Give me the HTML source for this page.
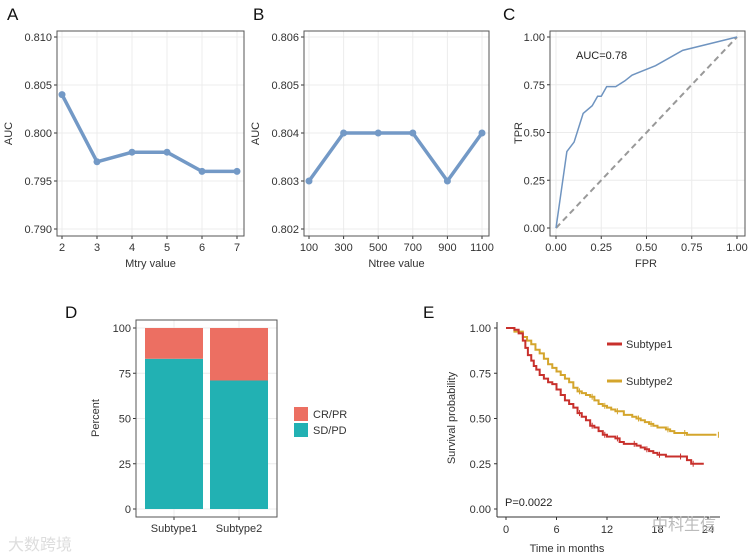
<!DOCTYPE html>
<html><head><meta charset="utf-8"><style>
body{margin:0;background:#fff;}
svg{display:block;font-family:"Liberation Sans",sans-serif;}
</style></head><body>
<svg id="fig" width="748" height="557" viewBox="0 0 748 557"></svg>
<script>
const mtryCats=[2,3,4,5,6,7];
const mtryAUC=[0.804,0.797,0.798,0.798,0.796,0.796];
const mtryTicks=[0.790,0.795,0.800,0.805,0.810];
const ntreeCats=[100,300,500,700,900,1100];
const ntreeAUC=[0.803,0.804,0.804,0.804,0.803,0.804];
const ntreeTicks=[0.802,0.803,0.804,0.805,0.806];
const rocFPR=[0,0.03,0.06,0.10,0.15,0.20,0.23,0.25,0.28,0.33,0.38,0.42,0.55,0.70,1.0];
const rocTPR=[0,0.20,0.40,0.45,0.60,0.64,0.69,0.69,0.74,0.74,0.77,0.80,0.85,0.93,1.0];
const rocTicks=[0,0.25,0.5,0.75,1.0];
const barCats=["Subtype1","Subtype2"];
const sdPD=[83,71];
const crPR=[17,29];
const pctTicks=[0,25,50,75,100];
const s1Time=[0,1,1.5,2,2.3,2.6,3,3.3,3.6,4,4.5,5,5.5,6,6.5,7,7.5,8,8.5,9,9.5,10,10.5,11,11.5,12,12.5,13,13.5,14,15,15.5,16,16.5,17,17.5,18,19,20,20.5,21,21.5,22,23.5];
const s1Surv=[1.0,0.99,0.97,0.93,0.89,0.85,0.82,0.79,0.77,0.74,0.72,0.70,0.69,0.66,0.63,0.60,0.58,0.56,0.53,0.51,0.49,0.46,0.45,0.43,0.41,0.40,0.40,0.39,0.37,0.36,0.36,0.35,0.34,0.33,0.32,0.31,0.30,0.29,0.29,0.29,0.29,0.27,0.25,0.25];
const s2Time=[0,1,2,2.5,3,3.5,4,4.5,5,5.5,6,6.5,7,7.5,8,8.5,9,9.5,10,10.5,11,11.5,12,12.5,13,14,15,15.5,16,16.5,17,17.5,18,19,19.5,20,21,21.5,22,25];
const s2Surv=[1.0,0.98,0.95,0.93,0.91,0.88,0.86,0.83,0.80,0.78,0.76,0.74,0.72,0.70,0.67,0.65,0.64,0.63,0.62,0.60,0.58,0.57,0.56,0.55,0.54,0.52,0.51,0.50,0.49,0.48,0.47,0.46,0.45,0.44,0.43,0.42,0.42,0.41,0.41,0.41];
const survTicks=[0,0.25,0.5,0.75,1.0];
const timeTicks=[0,6,12,18,24];

const svg=document.getElementById('fig');
const NS="http://www.w3.org/2000/svg";
function el(tag,attrs,parent,text){const e=document.createElementNS(NS,tag);for(const k in attrs)e.setAttribute(k,attrs[k]);if(text!==undefined)e.textContent=text;(parent||svg).appendChild(e);return e;}
function lin(d0,d1,r0,r1){return v=>r0+(v-d0)/(d1-d0)*(r1-r0);}
function label(t,x,y,name){const e=el('text',{x:x,y:y,'font-size':17,fill:'#111'},svg,t);}

function yAxis(ticks,ys,x0,x1,fmt,g){ticks.forEach(t=>{const y=ys(t);
 el('line',{x1:x0,x2:x1,y1:y,y2:y,stroke:'#ececec','stroke-width':1},g);
 el('line',{x1:x0-3,x2:x0,y1:y,y2:y,stroke:'#333'},g);
 const tx=el('text',{x:x0-5,y:y+4,'font-size':11,'text-anchor':'end',fill:'#333'},g,fmt(t));
 });}
function xAxis(ticks,xs,y0,y1,fmt,g,grid=true){ticks.forEach(t=>{const x=xs(t);
 if(grid)el('line',{x1:x,x2:x,y1:y1,y2:y0,stroke:'#ececec'},g);
 el('line',{x1:x,x2:x,y1:y0,y2:y0+3,stroke:'#333'},g);
 const tx=el('text',{x:x,y:y0+15,'font-size':11,'text-anchor':'middle',fill:'#333'},g,fmt(t));
 });}
function title(t,x,y,rot,g,name){const e=el('text',{x:x,y:y,'font-size':11,'text-anchor':'middle',fill:'#333',transform:rot?`rotate(-90 ${x} ${y})`:''},g,t);}

function linePanel(name,cats,vals,ticks,box,xlab,fmt){
 const g=el('g',{});
 const xs=lin(0,cats.length-1,box.x0+5,box.x1-7);const ys=lin(ticks[0],ticks[ticks.length-1],box.y1-7,box.y0+6);
 yAxis(ticks,ys,box.x0,box.x1,fmt,g);
 xAxis(cats.map((c,i)=>i),xs,box.y1,box.y0,i=>String(cats[i]),g);
 el('rect',{x:box.x0,y:box.y0,width:box.x1-box.x0,height:box.y1-box.y0,fill:'none',stroke:'#555','stroke-width':1},g);
 const pts=vals.map((v,i)=>xs(i)+','+ys(v)).join(' ');
 const pl=el('polyline',{points:pts,fill:'none',stroke:'#7399c6','stroke-width':3.5,'stroke-linejoin':'round'},g);
 
 vals.forEach((v,i)=>{const c=el('circle',{cx:xs(i),cy:ys(v),r:3.5,fill:'#7399c6'},g);});
 title(xlab,(box.x0+box.x1)/2,box.y1+31,false,g,'x-axis-title');
 title('AUC',box.x0-45,(box.y0+box.y1)/2,true,g,'y-axis-title');
}
label('A',7,20,'panel-label-a');label('B',253,20,'panel-label-b');label('C',503,20,'panel-label-c');
linePanel('mtry-chart',mtryCats,mtryAUC,mtryTicks,{x0:57,x1:244,y0:31,y1:236},'Mtry value',t=>t.toFixed(3));
linePanel('ntree-chart',ntreeCats,ntreeAUC,ntreeTicks,{x0:304,x1:489,y0:31,y1:236},'Ntree value',t=>t.toFixed(3));

// ROC
(function(){const g=el('g',{});
 const b={x0:550,x1:745,y0:31,y1:236};const xs=lin(0,1,556,737),ys=lin(0,1,228,37);
 yAxis(rocTicks,ys,b.x0,b.x1,t=>t.toFixed(2),g);xAxis(rocTicks,xs,b.y1,b.y0,t=>t.toFixed(2),g);
 el('rect',{x:b.x0,y:b.y0,width:b.x1-b.x0,height:b.y1-b.y0,fill:'none',stroke:'#555'},g);
 const d=el('line',{x1:xs(0),y1:ys(0),x2:xs(1),y2:ys(1),stroke:'#999','stroke-width':2,'stroke-dasharray':'6,4'},g);
 const p=el('polyline',{points:rocFPR.map((f,i)=>xs(f)+','+ys(rocTPR[i])).join(' '),fill:'none',stroke:'#6f94c0','stroke-width':1.5},g);
 const a=el('text',{x:576,y:59,'font-size':11,fill:'#222'},g,'AUC=0.78');
 title('FPR',646,267,false,g,'x-axis-title');title('TPR',522,133,true,g,'y-axis-title');})();

// D bar
label('D',65,318,'panel-label-d');
(function(){const g=el('g',{});
 const b={x0:136,x1:277,y0:320,y1:517};const ys=lin(0,100,509,328);const cx=[174,239];
 yAxis(pctTicks,ys,b.x0,b.x1,t=>String(t),g);
 xAxis([0,1],i=>cx[i],b.y1,b.y0,i=>barCats[i],g);
 el('rect',{x:b.x0,y:b.y0,width:b.x1-b.x0,height:b.y1-b.y0,fill:'none',stroke:'#555'},g);
 barCats.forEach((c,i)=>{const w=58;
  const r1=el('rect',{x:cx[i]-w/2,y:ys(sdPD[i]),width:w,height:ys(0)-ys(sdPD[i]),fill:'#22b1b3'},g);
  const r2=el('rect',{x:cx[i]-w/2,y:ys(sdPD[i]+crPR[i]),width:w,height:ys(sdPD[i])-ys(sdPD[i]+crPR[i]),fill:'#ec6f62'},g);});
 title('Percent',99,418,true,g,'y-axis-title');
 [['CR/PR','#ec6f62',407],['SD/PD','#22b1b3',423]].forEach(([t,c,y])=>{const lg=el('g',{},g);
  el('rect',{x:294,y:y,width:14,height:14,fill:c},lg);el('text',{x:313,y:y+11,'font-size':11,fill:'#333'},lg,t);});})();
el('text',{x:8,y:550,'font-size':16,fill:'#ddd','font-family':'"Liberation Sans","Noto Sans CJK SC",sans-serif'},svg,'大数跨境');

// E survival
label('E',423,318,'panel-label-e');
(function(){const g=el('g',{});
 const xs=lin(0,24,506,708),ys=lin(0,1,509,328);
 el('line',{x1:497,x2:497,y1:322,y2:517,stroke:'#333'},g);el('line',{x1:497,x2:720,y1:517,y2:517,stroke:'#333'},g);
 survTicks.forEach(t=>{el('line',{x1:494,x2:497,y1:ys(t),y2:ys(t),stroke:'#333'},g);const tx=el('text',{x:491,y:ys(t)+4,'font-size':11,'text-anchor':'end',fill:'#333'},g,t.toFixed(2));});
 timeTicks.forEach(t=>{el('line',{x1:xs(t),x2:xs(t),y1:517,y2:520,stroke:'#333'},g);const tx=el('text',{x:xs(t),y:533,'font-size':11,'text-anchor':'middle',fill:'#333'},g,String(t));});
 function step(T,S,col,name){let d='M'+xs(T[0])+','+ys(S[0]);for(let i=1;i<T.length;i++){d+=' H'+xs(T[i])+' V'+ys(S[i]);}
  const p=el('path',{d:d,fill:'none',stroke:col,'stroke-width':2},g);
  T.forEach((t,i)=>{if(i%3==0&&t>8){el('line',{x1:xs(t)+2,x2:xs(t)+2,y1:ys(S[i])-3,y2:ys(S[i])+3,stroke:col,'stroke-width':1},g);}});}
 step(s2Time,s2Surv,'#d4a52c','curve-subtype2');
 step(s1Time,s1Surv,'#c8302c','curve-subtype1');
 [['Subtype1','#c8302c',344],['Subtype2','#d4a52c',381]].forEach(([t,c,y])=>{const lg=el('g',{},g);
  el('line',{x1:607,x2:622,y1:y,y2:y,stroke:c,'stroke-width':3},lg);el('text',{x:626,y:y+4,'font-size':11,fill:'#333'},lg,t);});
 const pv=el('text',{x:505,y:506,'font-size':11,fill:'#222'},g,'P=0.0022');
 title('Time in months',567,552,false,g,'x-axis-title');title('Survival probability',455,418,true,g,'y-axis-title');
 el('text',{x:652,y:530,'font-size':16,fill:'#bbb','font-family':'"Liberation Sans","Noto Sans CJK SC",sans-serif'},svg,'中科生信');})();
</script>
</body></html>
